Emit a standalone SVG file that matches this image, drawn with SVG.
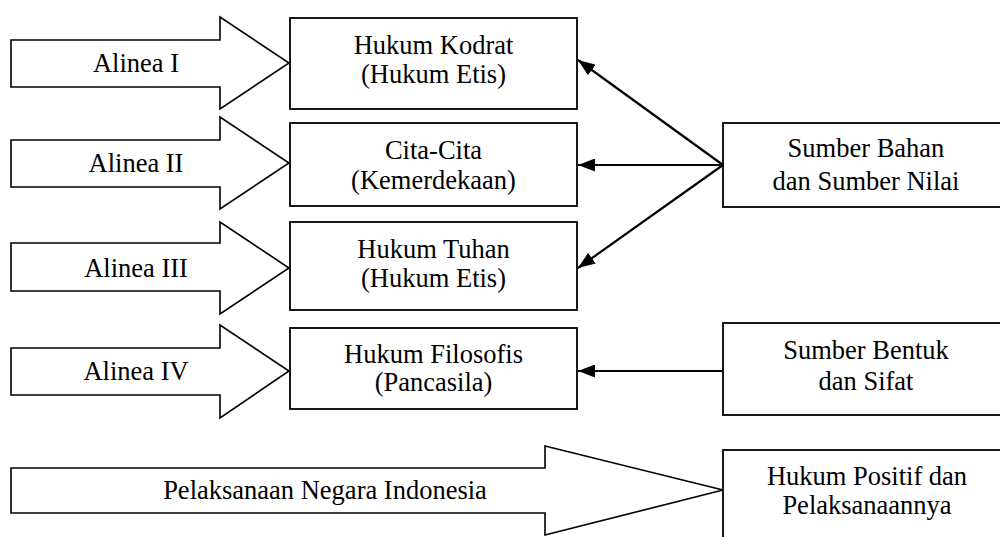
<svg xmlns="http://www.w3.org/2000/svg" width="1000" height="537" viewBox="0 0 1000 537">
  <style>
    .blk { fill: #fff; stroke: #000; stroke-width: 1.6; stroke-linejoin: miter; }
    .box { fill: #fff; stroke: #000; stroke-width: 1.8; }
    .lbl { font-family: "Liberation Serif", "Times New Roman", serif; font-size: 26.5px; fill: #000; text-anchor: middle; }
    .con { stroke: #000; stroke-width: 2.2; fill: none; marker-end: url(#tip); }
  </style>
  <defs>
    <marker id="tip" viewBox="0 0 17 13" refX="17" refY="6.5" markerWidth="17" markerHeight="13" markerUnits="userSpaceOnUse" orient="auto">
      <path d="M0,0 L17,6.5 L0,13 Z" fill="#000"/>
    </marker>
  </defs>

  <!-- block arrows (Alinea I-IV) -->
  <g id="alinea1">
    <path class="blk" d="M11,40 H220 V17 L289,63 L220,109 V87 H11 Z"/>
    <text class="lbl" x="136" y="72">Alinea I</text>
  </g>
  <g id="alinea2">
    <path class="blk" d="M11,140 H220 V117 L289,163 L220,209 V187 H11 Z"/>
    <text class="lbl" x="136" y="172">Alinea II</text>
  </g>
  <g id="alinea3">
    <path class="blk" d="M11,243 H220 V222 L289,268 L220,314 V291 H11 Z"/>
    <text class="lbl" x="136" y="277">Alinea III</text>
  </g>
  <g id="alinea4">
    <path class="blk" d="M11,348 H220 V325 L289,371 L220,418 V395 H11 Z"/>
    <text class="lbl" x="136" y="380">Alinea IV</text>
  </g>
  <g id="pelaksanaan">
    <path class="blk" d="M11,468 H545 V446 L723,490 L545,535 V513 H11 Z"/>
    <text class="lbl" x="325" y="499">Pelaksanaan Negara Indonesia</text>
  </g>

  <!-- centre column -->
  <g id="hukum-kodrat">
    <rect class="box" x="290" y="18" width="287" height="91"/>
    <text class="lbl" x="433.5" y="54">Hukum Kodrat</text>
    <text class="lbl" x="433.5" y="83">(Hukum Etis)</text>
  </g>
  <g id="cita-cita">
    <rect class="box" x="290" y="123" width="287" height="83"/>
    <text class="lbl" x="433.5" y="159">Cita-Cita</text>
    <text class="lbl" x="433.5" y="189">(Kemerdekaan)</text>
  </g>
  <g id="hukum-tuhan">
    <rect class="box" x="290" y="222" width="287" height="88"/>
    <text class="lbl" x="433.5" y="258">Hukum Tuhan</text>
    <text class="lbl" x="433.5" y="287">(Hukum Etis)</text>
  </g>
  <g id="hukum-filosofis">
    <rect class="box" x="290" y="328" width="287" height="81"/>
    <text class="lbl" x="433.5" y="363">Hukum Filosofis</text>
    <text class="lbl" x="433.5" y="391">(Pancasila)</text>
  </g>

  <!-- right column -->
  <g id="sumber-bahan">
    <rect class="box" x="723" y="123" width="300" height="84"/>
    <text class="lbl" x="866" y="157">Sumber Bahan</text>
    <text class="lbl" x="866" y="190">dan Sumber Nilai</text>
  </g>
  <g id="sumber-bentuk">
    <rect class="box" x="723" y="323" width="300" height="92"/>
    <text class="lbl" x="866" y="359">Sumber Bentuk</text>
    <text class="lbl" x="866" y="390">dan Sifat</text>
  </g>
  <g id="hukum-positif">
    <rect class="box" x="723" y="450" width="300" height="100"/>
    <text class="lbl" x="867" y="485">Hukum Positif dan</text>
    <text class="lbl" x="867" y="514">Pelaksanaannya</text>
  </g>

  <!-- connectors -->
  <g id="connectors">
    <line class="con" x1="723" y1="165" x2="578" y2="60"/>
    <line class="con" x1="723" y1="165" x2="578" y2="165"/>
    <line class="con" x1="723" y1="165" x2="578" y2="268"/>
    <line class="con" x1="723" y1="371" x2="578" y2="371"/>
  </g>
</svg>
